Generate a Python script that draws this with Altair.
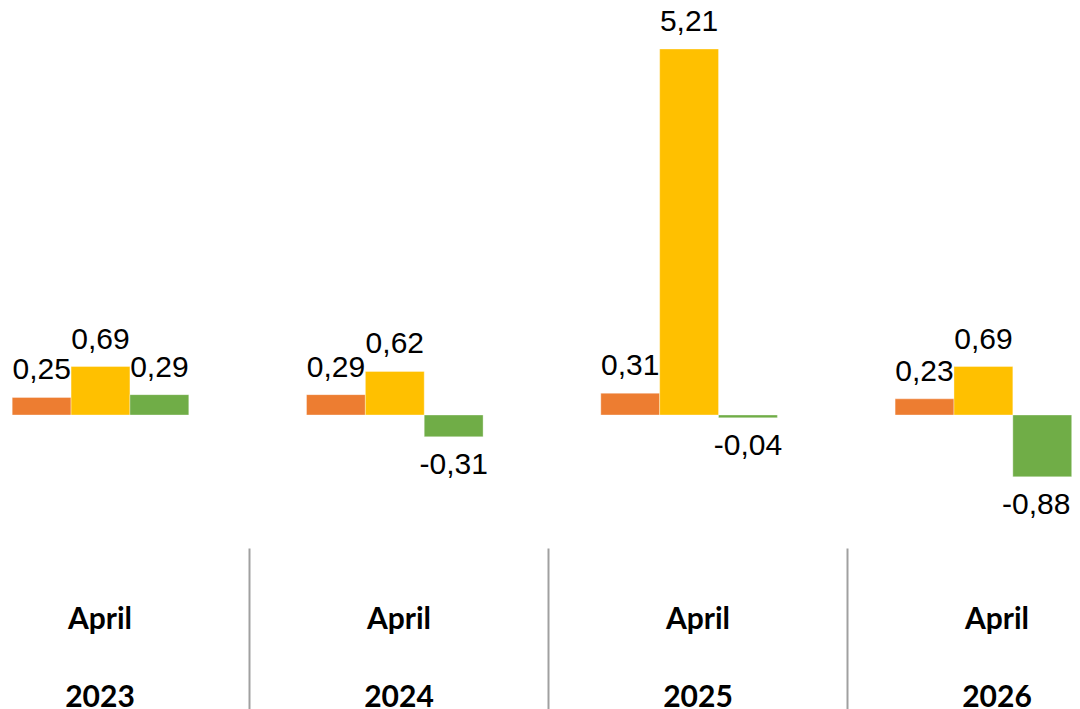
import altair as alt
import pandas as pd

groups = ["April 2023", "April 2024", "April 2025", "April 2026"]
series = ["Series 1", "Series 2", "Series 3"]
series1 = [0.25, 0.29, 0.31, 0.23]
series2 = [0.69, 0.62, 5.21, 0.69]
series3 = [0.29, -0.31, -0.04, -0.88]
colors = ["#ED7D31", "#FFC000", "#70AD47"]

rows = []
for s, vals in zip(series, [series1, series2, series3]):
    for g, v in zip(groups, vals):
        rows.append({"group": g, "series": s, "value": v})
df = pd.DataFrame(rows)

px_per_unit = 70.25
y_dom = [-133 / px_per_unit, 407 / px_per_unit]

xbar = alt.X("group:N", sort=groups, axis=None,
             scale=alt.Scale(range=[-54.65, 1122.55], paddingInner=0.4, paddingOuter=0.2, round=False))
xoff = alt.XOffset("series:N", sort=series,
                   scale=alt.Scale(paddingInner=0, paddingOuter=0, round=False))
yenc = alt.Y("value:Q", axis=None, scale=alt.Scale(domain=y_dom, nice=False, zero=True))

base = alt.Chart(df).transform_calculate(
    label="(datum.value < 0 ? '-' : '') + replace(format(abs(datum.value), '.2f'), '.', ',')"
)

bars = base.mark_bar(stroke="#ffffff", strokeOpacity=0.35, strokeWidth=1).encode(
    x=xbar, xOffset=xoff, y=yenc,
    color=alt.Color("series:N", sort=series, legend=None,
                    scale=alt.Scale(domain=series, range=colors)),
)

txt_style = dict(font="Liberation Sans", fontSize=30, color="#000000", baseline="alphabetic")

txt_pos = base.transform_filter("datum.value >= 0").mark_text(dy=-18, **txt_style).encode(
    x=xbar, xOffset=xoff, y=yenc, text="label:N")

last_group = groups[-1]
txt_neg = base.transform_filter(
    f"datum.value < 0 && datum.group != '{last_group}'"
).mark_text(dy=37, **txt_style).encode(x=xbar, xOffset=xoff, y=yenc, text="label:N")

# label at the right edge: nudged so that it stays inside the page
txt_neg_edge = base.transform_filter(
    f"datum.value < 0 && datum.group == '{last_group}'"
).mark_text(dy=37, dx=-6, **txt_style).encode(x=xbar, xOffset=xoff, y=yenc, text="label:N")

bar_layer = alt.layer(bars, txt_pos, txt_neg, txt_neg_edge)

axis_layer = alt.Chart(pd.DataFrame({"group": groups})).mark_point(opacity=0).encode(
    x=alt.X("group:N", sort=groups, title=None,
            scale=alt.Scale(range=[-58, 1138], paddingInner=0, paddingOuter=0, round=False),
            axis=alt.Axis(orient="bottom", domain=False, ticks=True, tickBand="extent",
                          tickSize=175, tickWidth=2, tickColor="#A0A0A0",
                          labelAngle=0, labelFont="Lato", labelFontWeight="bold",
                          labelFontSize=30, labelColor="#000000",
                          labelExpr="split(datum.label, ' ')", labelLineHeight=78,
                          labelPadding=-119, labelOverlap=False, labelBound=False)),
)

chart = alt.layer(bar_layer, axis_layer).resolve_scale(x="independent").properties(
    width=1064, height=540,
    autosize=alt.AutoSizeParams(type="none"),
    padding={"left": 0, "top": 0, "right": 0, "bottom": 170},
).configure(background="#ffffff", view=alt.ViewConfig(stroke="transparent", strokeWidth=0))

chart.save("out.html", embed_options={"renderer": "svg", "actions": False})
